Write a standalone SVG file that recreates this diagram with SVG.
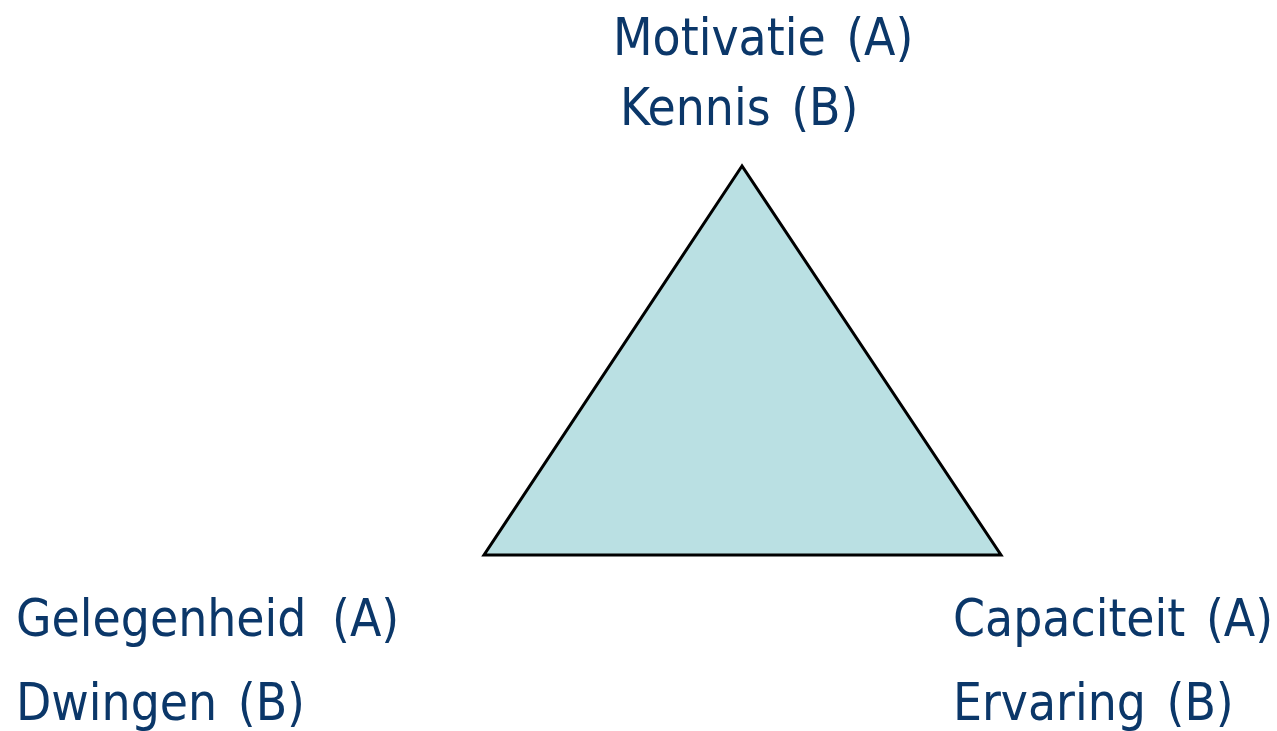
<svg xmlns="http://www.w3.org/2000/svg" width="1277" height="731" viewBox="0 0 1277 731">
  <style>
    .lbl { font-family: "DejaVu Sans Condensed", "DejaVu Sans", Tahoma, sans-serif; font-size: 51px; fill: #0B3769; word-spacing: 6px; }
    .wide { word-spacing: 11px; }
    .tri { fill: #BAE0E3; stroke: #000000; stroke-width: 3; stroke-linejoin: miter; }
  </style>
  <rect width="1277" height="731" fill="#FFFFFF"/>
  <g id="triangle">
    <polygon class="tri" points="742,166 484,555 1001,555"/>
  </g>
  <g id="connectors"/>
  <g id="top-label">
    <text class="lbl" x="613" y="55">Motivatie (A)</text>
    <text class="lbl" x="620" y="125">Kennis (B)</text>
  </g>
  <g id="left-label">
    <text class="lbl wide" x="16" y="636">Gelegenheid (A)</text>
    <text class="lbl" x="16" y="720">Dwingen (B)</text>
  </g>
  <g id="right-label">
    <text class="lbl" x="953" y="636">Capaciteit (A)</text>
    <text class="lbl" x="953" y="720">Ervaring (B)</text>
  </g>
</svg>
